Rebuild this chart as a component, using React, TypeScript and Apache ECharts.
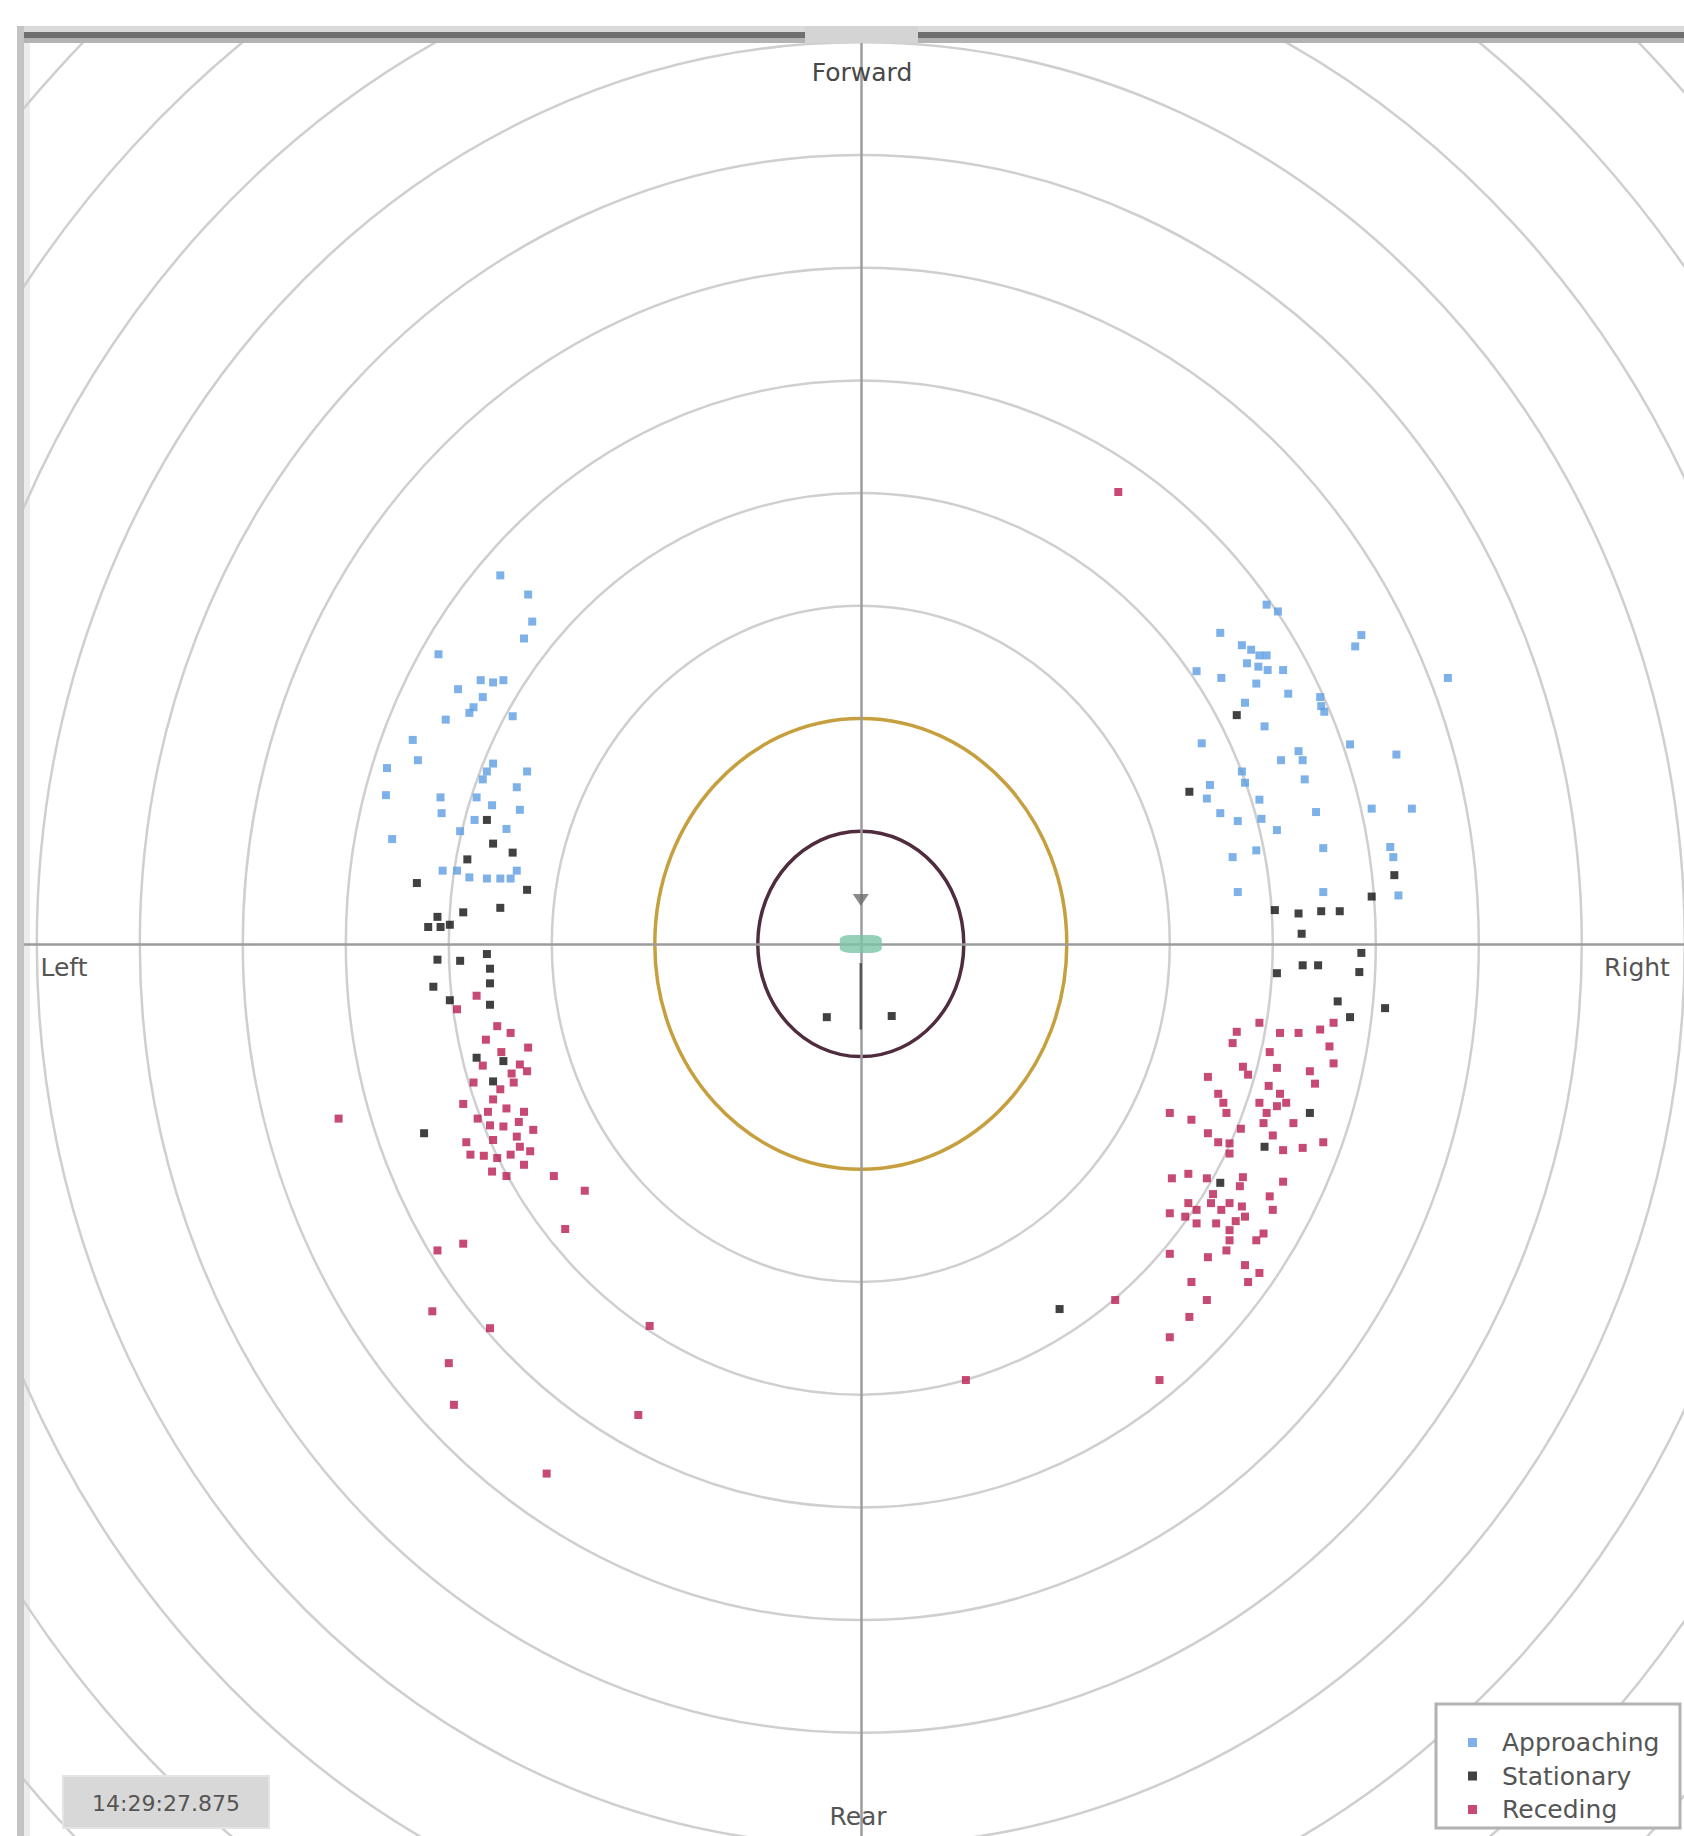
import React, { useEffect, useRef } from "react";
import * as echarts from "echarts";

// ---- data (units: metres, ring every 10 m) ----
const ringRadii = [10, 20, 30, 40, 50, 60, 70, 80, 90, 100, 110, 120];
const seriesNames = ["Approaching", "Stationary", "Receding"];
const directionLabels = ["Forward", "Left", "Right", "Rear"];
const timestamp = "14:29:27.875";

const approaching: number[][] = [
  [-35.0, 32.7], [-32.3, 31.0], [-31.9, 28.6], [-32.7, 27.1], [-41.0, 25.7], [-36.9, 23.4], [-35.7, 23.2],
  [-34.7, 23.4], [-39.1, 22.6], [-36.7, 21.9], [-37.6, 21.0], [-38.0, 20.5], [-33.8, 20.2], [-40.3, 19.9],
  [-43.5, 18.1], [-43.0, 16.3], [-46.0, 15.6], [-35.7, 16.0], [-36.3, 15.3], [-36.7, 14.6], [-32.4, 15.3],
  [-33.4, 13.9], [-46.1, 13.2], [-40.8, 13.0], [-37.3, 13.0], [-35.8, 12.3], [-40.7, 11.6], [-33.1, 11.9],
  [-38.9, 10.0], [-45.5, 9.3], [-40.6, 6.5], [-39.2, 6.5], [-38.0, 5.9], [-36.3, 5.8], [-35.0, 5.8],
  [-34.0, 5.8], [-33.4, 6.5], [-37.5, 11.0], [-34.4, 10.2],
  [39.4, 30.1], [40.5, 29.5], [34.9, 27.6], [37.0, 26.5], [37.9, 26.1], [38.7, 25.6], [39.4, 25.6],
  [37.5, 24.9], [38.6, 24.6], [39.5, 24.3], [38.4, 23.1], [41.0, 24.3], [48.6, 27.4], [48.0, 26.4],
  [32.6, 24.2], [35.0, 23.6], [57.0, 23.6], [41.5, 22.2], [44.6, 21.9], [44.7, 21.1], [45.0, 20.6],
  [37.3, 21.4], [39.2, 19.3], [33.1, 17.8], [47.5, 17.7], [52.0, 16.8], [42.5, 17.1], [40.8, 16.3],
  [42.9, 16.3], [37.0, 15.3], [37.3, 14.3], [43.1, 14.6], [33.9, 14.1], [33.6, 12.9], [38.7, 12.8],
  [38.9, 11.1], [34.9, 11.6], [36.6, 10.9], [44.2, 11.7], [49.6, 12.0], [53.5, 12.0], [40.4, 10.1],
  [44.9, 8.5], [51.4, 8.6], [51.7, 7.7], [36.1, 7.7], [38.4, 8.3], [36.6, 4.6], [44.9, 4.6], [52.2, 4.3],
];

const stationary: number[][] = [
  [-36.3, 11.0], [-35.7, 8.9], [-38.2, 7.5], [-33.8, 8.1], [-43.1, 5.4], [-32.4, 4.8], [-35.0, 3.2],
  [-41.1, 2.4], [-38.6, 2.8], [-42.0, 1.5], [-40.8, 1.5], [-39.9, 1.7], [-41.1, -1.4], [-38.9, -1.5],
  [-36.3, -0.9], [-36.0, -2.2], [-36.0, -3.5], [-41.5, -3.8], [-39.9, -5.0], [-36.0, -5.4], [-37.3, -10.1],
  [-34.7, -10.4], [-35.7, -12.2], [-42.4, -16.8],
  [-3.3, -6.5], [3.0, -6.4],
  [36.5, 20.3], [31.9, 13.5], [51.8, 6.1], [49.6, 4.2], [40.2, 3.0], [42.5, 2.7], [44.7, 2.9], [46.5, 2.9],
  [42.8, 0.9], [48.6, -0.8], [48.4, -2.5], [42.9, -1.9], [44.4, -1.9], [40.4, -2.6], [46.3, -5.1],
  [47.5, -6.5], [50.9, -5.7], [43.6, -15.0], [39.2, -18.0], [34.9, -21.2], [19.3, -32.4],
];

const receding: number[][] = [
  [-37.3, -4.6], [-39.2, -5.8], [-35.3, -7.3], [-34.0, -7.9], [-32.3, -9.2], [-33.1, -10.7], [-37.6, -12.3],
  [-33.7, -12.3], [-38.6, -14.2], [-35.7, -13.8], [-34.4, -14.6], [-32.7, -14.9], [-50.7, -15.5], [-36.0, -16.1],
  [-35.7, -17.4], [-33.4, -17.1], [-33.1, -18.0], [-37.9, -18.7], [-36.6, -18.8], [-35.3, -19.0], [-34.0, -18.7],
  [-32.1, -18.4], [-32.7, -19.6], [-34.4, -20.6], [-29.8, -20.6], [-26.8, -21.9], [-28.7, -25.3], [-41.1, -27.2],
  [-38.6, -26.6], [-41.6, -32.6], [-36.0, -34.1], [-20.5, -33.9], [-40.0, -37.2], [-39.5, -40.9], [-21.6, -41.8],
  [-30.5, -47.0], [-36.4, -8.5], [-34.9, -9.6], [-36.7, -10.8], [-32.4, -11.3], [-35.0, -12.9], [-37.2, -15.5],
  [-34.7, -16.2], [-38.3, -17.6], [-31.8, -16.5], [-35.8, -20.2], [-33.9, -11.5], [-36.2, -14.9], [-33.2, -15.8],
  [25.0, 40.1], [38.7, -7.0], [36.5, -7.8], [36.1, -8.8], [40.7, -7.9], [42.5, -7.9], [44.6, -7.6], [45.9, -7.0],
  [39.7, -9.6], [45.5, -9.1], [45.9, -10.6], [37.1, -10.9], [37.6, -11.6], [40.4, -11.0], [43.6, -11.3],
  [44.1, -12.4], [33.7, -11.8], [34.7, -13.3], [35.2, -14.1], [40.7, -13.3], [41.3, -14.1], [38.7, -14.1],
  [39.4, -15.0], [40.4, -14.4], [30.0, -15.0], [32.1, -15.6], [35.5, -15.0], [39.1, -15.9], [42.0, -15.9],
  [40.0, -17.0], [33.7, -16.8], [34.7, -17.6], [35.8, -17.7], [35.8, -18.6], [41.0, -18.3], [42.9, -18.1],
  [44.9, -17.6], [31.8, -20.4], [33.6, -20.8], [30.2, -20.8], [37.1, -20.7], [36.8, -21.5], [41.0, -21.1],
  [31.8, -23.0], [32.6, -23.6], [31.5, -24.2], [30.0, -23.9], [34.0, -23.0], [35.0, -23.6], [35.8, -23.0],
  [37.0, -23.3], [37.3, -24.2], [39.7, -22.4], [40.0, -23.6], [34.5, -24.8], [35.8, -25.4], [35.8, -26.3],
  [39.1, -25.7], [38.4, -26.3], [32.6, -24.8], [35.5, -27.2], [30.0, -27.5], [33.7, -27.8], [37.3, -28.5],
  [38.7, -29.2], [37.6, -30.0], [32.1, -30.0], [33.6, -31.6], [31.9, -33.1], [30.0, -34.9], [29.0, -38.7],
  [24.7, -31.6], [10.2, -38.7], [39.6, -12.6], [36.9, -16.4], [34.2, -22.2], [36.4, -24.6],
];

const hostPosition: number[][] = [[0, 0]];
const sensorPosition: number[][] = [[0, 3.9]];
const headingLine: number[][] = [[0, -1.7], [0, -7.6]];

// ---- layout ----
const W = 1684;
const H = 1836;
const GRID_LEFT = 24;
const GRID_TOP = 43;
const CX = 860.8;
const CY = 943.9;
const PX_PER_UNIT_X = 10.3;
const PX_PER_UNIT_Y = 11.27;
const X_MIN = (GRID_LEFT - CX) / PX_PER_UNIT_X;
const X_MAX = (W - CX) / PX_PER_UNIT_X;
const Y_MAX = (CY - GRID_TOP) / PX_PER_UNIT_Y;
const Y_MIN = (CY - H) / PX_PER_UNIT_Y;

const FONT = "DejaVu Sans";

function txt(text: string, x: number, y: number, size: number, color: string) {
  return {
    type: "text",
    x,
    y,
    z: 20,
    style: {
      text,
      fontSize: size,
      fontFamily: FONT,
      fill: color,
      align: "center",
      verticalAlign: "middle",
      textAlign: "center",
      textVerticalAlign: "middle",
    },
  };
}

export default function App() {
  const ref = useRef<HTMLDivElement>(null);

  useEffect(() => {
    document.body.style.margin = "0";
    const chart = echarts.init(ref.current!, null, { renderer: "svg" });
    const option: any = {
      animation: false,
      backgroundColor: "#ffffff",
      grid: { left: GRID_LEFT, top: GRID_TOP, right: 0, bottom: 0, containLabel: false },
      xAxis: {
        type: "value",
        min: X_MIN,
        max: X_MAX,
        z: 3,
        axisLine: { show: true, onZero: true, lineStyle: { color: "#9c9c9c", width: 2.5 } },
        axisTick: { show: false },
        axisLabel: { show: false },
        splitLine: { show: false },
      },
      yAxis: {
        type: "value",
        min: Y_MIN,
        max: Y_MAX,
        z: 3,
        axisLine: { show: true, onZero: true, lineStyle: { color: "#9c9c9c", width: 2.5 } },
        axisTick: { show: false },
        axisLabel: { show: false },
        splitLine: { show: false },
      },
      legend: {
        data: seriesNames,
        orient: "vertical",
        left: 1463,
        top: 1725,
        itemWidth: 9,
        itemHeight: 9,
        itemGap: 8.5,
        icon: "rect",
        selectedMode: false,
        z: 30,
        textStyle: {
          fontFamily: FONT,
          fontSize: 25,
          lineHeight: 25,
          color: "#555555",
          padding: [0, 0, 0, 20],
        },
      },
      graphic: [
        // frame: top band
        { type: "rect", z: 10, shape: { x: 19, y: 26, width: W - 19, height: 6 }, style: { fill: "#dadada" } },
        { type: "rect", z: 10, shape: { x: 19, y: 32, width: W - 19, height: 6 }, style: { fill: "#6e6e6e" } },
        { type: "rect", z: 10, shape: { x: 19, y: 38, width: W - 19, height: 5 }, style: { fill: "#b3b3b3" } },
        { type: "rect", z: 11, shape: { x: 805, y: 26, width: 113, height: 17 }, style: { fill: "#d4d4d4" } },
        // frame: left band
        { type: "rect", z: 10, shape: { x: 17, y: 26, width: 7, height: H - 26 }, style: { fill: "#c4c4c4" } },
        { type: "rect", z: 0, shape: { x: 24, y: 43, width: 6, height: H - 43 }, style: { fill: "#ececec" } },
        // direction labels
        txt(directionLabels[0], 862, 72, 25, "#484848"),
        txt(directionLabels[1], 64, 967, 25, "#555555"),
        txt(directionLabels[2], 1637, 967, 25, "#555555"),
        txt(directionLabels[3], 858, 1816, 25, "#555555"),
        // timestamp box
        { type: "rect", z: 19, shape: { x: 63, y: 1776, width: 206, height: 52 }, style: { fill: "#d8d8d8", stroke: "#e4e4e4", lineWidth: 2 } },
        txt(timestamp, 166, 1803, 22, "#555555"),
        // legend box
        { type: "rect", z: 19, shape: { x: 1436, y: 1704, width: 244, height: 124 }, style: { fill: "#ffffff", stroke: "#b2b2b2", lineWidth: 3 } },
      ],
      series: [
        {
          name: "Rings",
          type: "custom",
          coordinateSystem: "cartesian2d",
          data: ringRadii.map((r) => [r, 0]),
          encode: { x: 0, y: 1 },
          clip: true,
          silent: true,
          z: 1,
          renderItem: (params: any, api: any) => {
            const r = api.value(0);
            const c = api.coord([0, 0]);
            const e = api.coord([r, r]);
            const color = r === 10 ? "#4f2c3e" : r === 20 ? "#c6a03f" : "#cfcfcf";
            return {
              type: "ellipse",
              shape: { cx: c[0], cy: c[1], rx: Math.abs(e[0] - c[0]), ry: Math.abs(c[1] - e[1]) },
              style: { fill: "none", stroke: color, lineWidth: r <= 20 ? 3.5 : 2.5 },
            };
          },
        },
        {
          name: "Heading",
          type: "line",
          data: headingLine,
          symbol: "none",
          silent: true,
          z: 4,
          lineStyle: { color: "#555555", width: 2.5 },
        },
        {
          name: "Sensor",
          type: "scatter",
          data: sensorPosition,
          symbol: "triangle",
          symbolRotate: 180,
          symbolSize: [16, 12],
          silent: true,
          z: 6,
          itemStyle: { color: "#6d6d6d" },
        },
        {
          name: "Host",
          type: "scatter",
          data: hostPosition,
          symbol: "roundRect",
          symbolSize: [42, 18],
          silent: true,
          z: 6,
          itemStyle: { color: "#7cc4a8" },
        },
        {
          name: seriesNames[0],
          type: "scatter",
          data: approaching,
          symbol: "rect",
          symbolSize: 8,
          z: 7,
          itemStyle: { color: "#5f9de3" },
        },
        {
          name: seriesNames[1],
          type: "scatter",
          data: stationary,
          symbol: "rect",
          symbolSize: 8,
          z: 8,
          itemStyle: { color: "#111111" },
        },
        {
          name: seriesNames[2],
          type: "scatter",
          data: receding,
          symbol: "rect",
          symbolSize: 8,
          z: 7,
          itemStyle: { color: "#b81d4f" },
        },
      ],
    };
    chart.setOption(option);
    return () => chart.dispose();
  }, []);

  return (
    <div
      ref={ref}
      style={{ position: "absolute", left: 0, top: 0, width: W, height: H, background: "#fff" }}
    />
  );
}
